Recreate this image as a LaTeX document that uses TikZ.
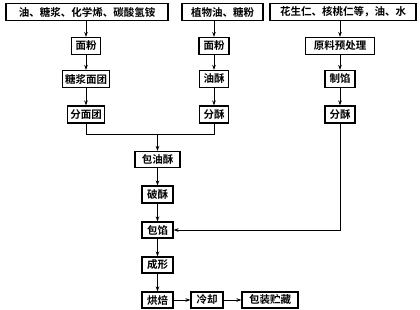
\documentclass[tikz,border=0pt]{standalone}
\usepackage{fontspec}
\newfontfamily\cjk[BoldFont={* Bold}]{Noto Sans CJK SC}
\usetikzlibrary{arrows.meta}
\begin{document}
\begin{tikzpicture}[x=1pt,y=-1pt,
  box/.style={draw,line width=1.2pt,inner sep=0pt,minimum height=17pt,font=\cjk\bfseries\fontsize{10.5}{10.5}\selectfont},
  arr/.style={-{Stealth[length=5pt,width=3.6pt]},line width=0.8pt},
  ln/.style={line width=0.8pt}]
\useasboundingbox (0,0) rectangle (420,310);
% top row
\node[box,minimum width=162pt] (a1) at (87,12) {油、糖浆、化学烯、碳酸氢铵};
\node[box,minimum width=81pt] (a2) at (222.5,12) {植物油、糖粉};
\node[box,minimum width=146pt] (a3) at (343,12) {花生仁、核桃仁等，油、水};
% column 1
\node[box,minimum width=29pt] (b1) at (86,46) {面粉};
\node[box,minimum width=47pt] (c1) at (86,79) {糖浆面团};
\node[box,minimum width=37pt] (d1) at (86,114.5) {分面团};
% column 2
\node[box,minimum width=30pt] (b2) at (214,46) {面粉};
\node[box,minimum width=29pt] (c2) at (214,79) {油酥};
\node[box,minimum width=29pt] (d2) at (214,114.5) {分酥};
% column 3
\node[box,minimum width=69pt] (b3) at (340,46) {原料预处理};
\node[box,minimum width=30pt] (c3) at (340,79) {制馅};
\node[box,minimum width=30pt] (d3) at (340,114.5) {分酥};
% centre column
\node[box,minimum width=45pt,minimum height=16pt] (e) at (157.5,159.5) {包油酥};
\node[box,minimum width=31pt] (f) at (157.5,194.5) {破酥};
\node[box,minimum width=31pt,minimum height=16pt] (g) at (157.5,230) {包馅};
\node[box,minimum width=31pt,minimum height=16pt] (h) at (157.5,265) {成形};
\node[box,minimum width=31pt,minimum height=16pt] (i) at (157.5,300) {烘焙};
\node[box,minimum width=32pt,minimum height=16pt] (j) at (207,300) {冷却};
\node[box,minimum width=56pt,minimum height=16pt] (k) at (270,300) {包装贮藏};
% connectors
\draw[arr] (a1.south -| b1) -- (b1.north);
\draw[arr] (b1) -- (c1);
\draw[arr] (c1) -- (d1);
\draw[arr] (a2.south -| b2) -- (b2.north);
\draw[arr] (b2) -- (c2);
\draw[arr] (c2) -- (d2);
\draw[arr] (a3.south -| b3) -- (b3.north);
\draw[arr] (b3) -- (c3);
\draw[arr] (c3) -- (d3);
\coordinate (j1) at (86,134);
\coordinate (j2) at (214,134);
\coordinate (jm) at (157.5,134);
\draw[ln] (d1.south) -- (j1) -- (j2) -- (d2.south);
\draw[arr] (jm) -- (e.north);
\draw[arr] (e) -- (f);
\draw[arr] (f) -- (g);
\draw[arr] (d3.south) |- (g.east);
\draw[arr] (g) -- (h);
\draw[arr] (h) -- (i);
\draw[arr] (i) -- (j);
\draw[arr] (j) -- (k);
\end{tikzpicture}
\end{document}
